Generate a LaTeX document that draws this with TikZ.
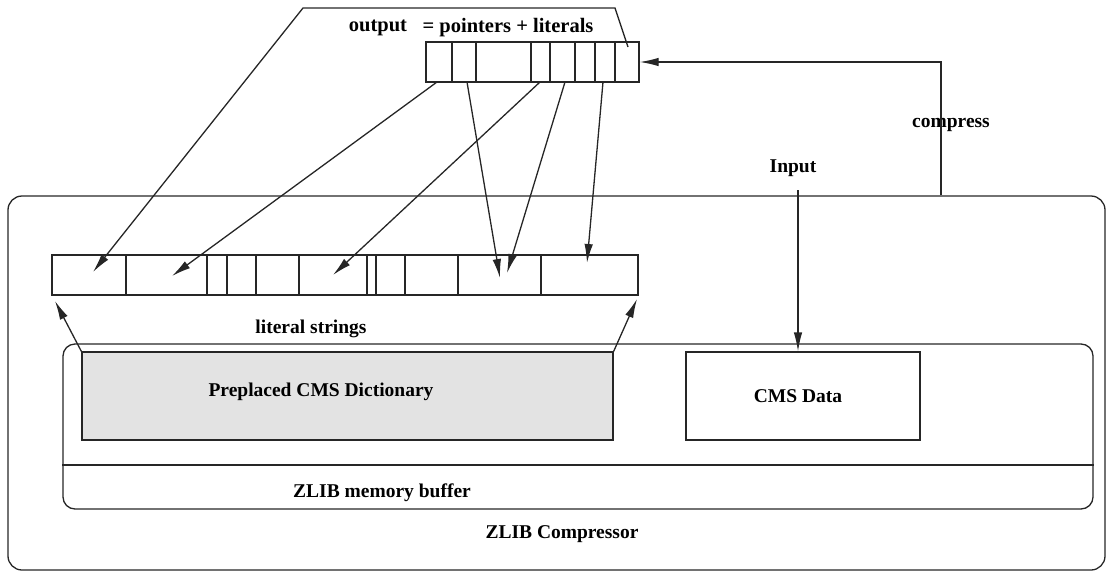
\documentclass[tikz,border=0pt]{standalone}
\usepackage{fontspec}
\setmainfont{Liberation Serif}
\usetikzlibrary{arrows.meta}
\begin{document}
\begin{tikzpicture}[x=1pt,y=-1pt,
  ln/.style={draw=black!85,line width=1.3pt},
  arr/.style={ln,-{Latex[length=19pt,width=8.5pt]}},
  lbl/.style={inner sep=0pt,font=\fontsize{19.5}{22}\selectfont\bfseries},
  cellbar/.style={ln,rectangle,inner sep=0pt}]
\useasboundingbox (0,0) rectangle (1107,573);
% boxes
\node[ln,rounded corners=14pt,minimum width=1097pt,minimum height=374pt,inner sep=0pt] (outer) at (556.5,383) {};
\node[ln,rounded corners=12pt,minimum width=1030pt,minimum height=165pt,inner sep=0pt] (buffer) at (578,426.5) {};
\coordinate (bufdiv) at (0,465);
\draw[ln] (buffer.west |- bufdiv) -- (buffer.east |- bufdiv);
\node[ln,fill=gray!22,minimum width=531pt,minimum height=88pt,inner sep=0pt] (dict) at (347.5,396) {};
\node[ln,minimum width=234pt,minimum height=88pt,inner sep=0pt] (cms) at (803,396) {};
% bars
\node[cellbar,minimum width=586pt,minimum height=40pt] (lowbar) at (345,275) {};
\foreach \x in {126,207,227,256,299,367,376,405,458,541} \draw[ln] (\x,255) -- (\x,295);
\node[cellbar,minimum width=213pt,minimum height=40pt] (outbar) at (532.5,62) {};
\foreach \x in {452,476,531,550,575,595,615} \draw[ln] (\x,42) -- (\x,82);
% labels
\node[lbl,font=\fontsize{20.5}{23}\selectfont\bfseries] (outlbl) at (378,28) {output};
\node[lbl,font=\fontsize{20.5}{23}\selectfont\bfseries] (eqlbl) at (508,28) {= pointers + literals};
\node[lbl] (complbl) at (951,125) {compress};
\node[lbl] (inlbl) at (793,168) {Input};
\node[lbl] (litlbl) at (311,329) {literal strings};
\node[lbl] (dictlbl) at (321,392) {Preplaced CMS Dictionary};
\node[lbl] (cmslbl) at (798,396) {CMS Data};
\node[lbl] (buflbl) at (382,493) {ZLIB memory buffer};
\node[lbl] (complbl2) at (562,534) {ZLIB Compressor};
% connector coordinates
\coordinate (p0) at (628,47);
\coordinate (p1) at (615,8);
\coordinate (p2) at (303,8);
\coordinate (t1) at (93,272);
\coordinate (s2) at (437,82); \coordinate (t2) at (172,276);
\coordinate (s3) at (467,82); \coordinate (t3) at (500,278);
\coordinate (s4) at (540,82); \coordinate (t4) at (333,275);
\coordinate (s5) at (565,82); \coordinate (t5) at (507,273);
\coordinate (s6) at (603,82); \coordinate (t6) at (587,263);
\coordinate (cmpx) at (941,0);
\coordinate (intop) at (798,190);
\coordinate (litL) at (55,301);
\coordinate (litR) at (637,299);
% connectors
\draw[arr] (p0) -- (p1) -- (p2) -- (t1);
\draw[arr] (s2) -- (t2);
\draw[arr] (s3) -- (t3);
\draw[arr] (s4) -- (t4);
\draw[arr] (s5) -- (t5);
\draw[arr] (s6) -- (t6);
\draw[arr] (outer.north -| cmpx) |- (outbar.east);
\draw[arr] (intop) -- (intop |- cms.north);
\draw[arr] (dict.north west) -- (litL);
\draw[arr] (dict.north east) -- (litR);
\end{tikzpicture}
\end{document}
